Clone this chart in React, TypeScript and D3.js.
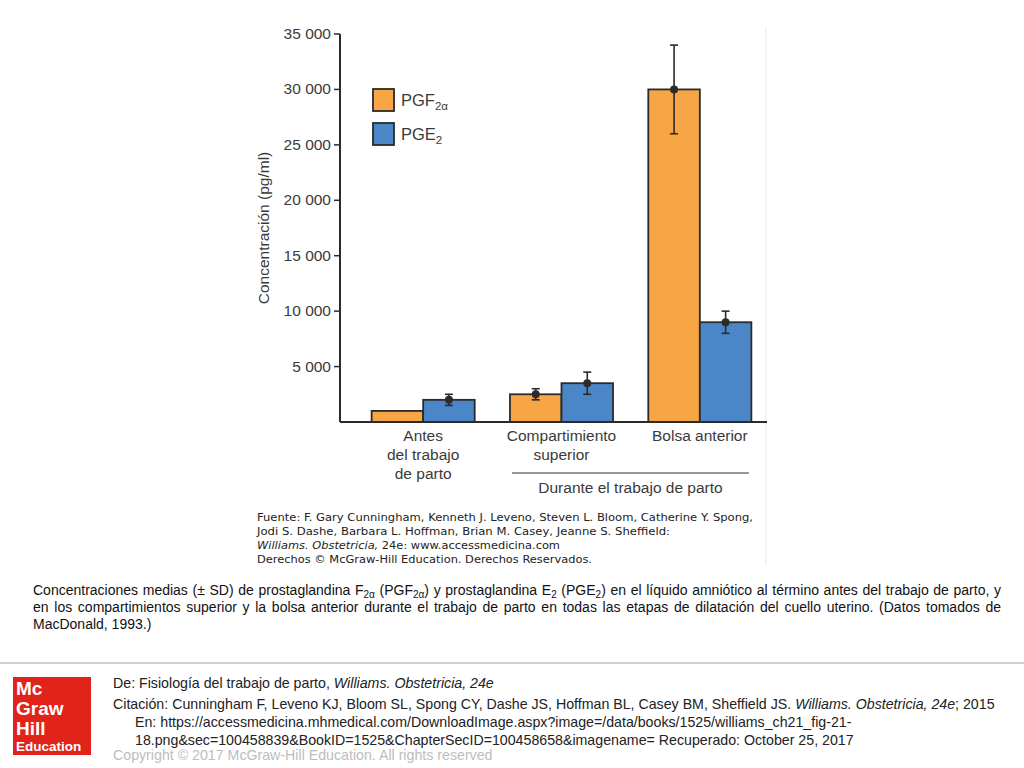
import React, { useEffect, useRef } from "react";
import * as d3 from "d3";

const categories = ["Antes", "Compartimiento", "Bolsa"];
const categoryLines = [["Antes", "del trabajo", "de parto"], ["Compartimiento", "superior"], ["Bolsa anterior"]];
const series = ["PGF", "PGE"];
const pgfValues = [1000, 2500, 30000];
const pgfSD = [0, 500, 4000];
const pgeValues = [2000, 3500, 9000];
const pgeSD = [500, 1000, 1000];
const yTicks = [5000, 10000, 15000, 20000, 25000, 30000, 35000];

const ORANGE = "#F8A546";
const BLUE = "#4B86C8";
const INK = "#2b2b2b";
const TXT = "#3a3a3a";

const fmt = d3.formatLocale({ decimal: ",", thousands: " ", grouping: [3], currency: ["", ""] }).format(",d");

function Justified({ x, y, width, children }: any) {
  const ref = useRef<SVGTextElement>(null);
  useEffect(() => {
    const el = ref.current;
    if (!el) return;
    el.style.wordSpacing = "0px";
    const len = el.getComputedTextLength();
    const txt = el.textContent || "";
    const spaces = (txt.match(/ /g) || []).length;
    if (spaces > 0) el.style.wordSpacing = (width - len) / spaces + "px";
  }, [width]);
  return (
    <text ref={ref} x={x} y={y}>
      {children}
    </text>
  );
}

export default function App() {
  const y = d3.scaleLinear().domain([0, 35000]).range([422, 34]);
  const x0 = d3.scaleBand().domain(categories).range([354, 769]).paddingInner(0.255).paddingOuter(0.1275);
  const x1 = d3.scaleBand().domain(series).range([0, x0.bandwidth()]);
  const data = categories.map((c, i) => [
    { s: "PGF", v: pgfValues[i], sd: pgfSD[i], color: ORANGE },
    { s: "PGE", v: pgeValues[i], sd: pgeSD[i], color: BLUE },
  ]);
  const axisX = 340;
  const sub = (t: string, size = 10) => (
    <tspan fontSize={size} dy={3}>{t}</tspan>
  );

  return (
    <svg width={1024} height={768} style={{ position: "absolute", left: 0, top: 0, background: "#fff" }} fontFamily="'Liberation Sans', Arial, sans-serif">
      {/* figure border */}
      <line x1={766} x2={766} y1={28} y2={565} stroke="#e6e6e6" strokeWidth={1} />

      {/* bars */}
      {data.map((grp, i) =>
        grp.map((d) => {
          const bx = (x0(categories[i]) as number) + (x1(d.s) as number);
          const bw = x1.bandwidth();
          const cx = bx + bw / 2;
          return (
            <g key={i + d.s}>
              <rect x={bx} y={y(d.v)} width={bw} height={y(0) - y(d.v)} fill={d.color} stroke={INK} strokeWidth={1.8} />
              {d.sd > 0 && (
                <g stroke={INK} strokeWidth={1.6}>
                  <line x1={cx} x2={cx} y1={y(d.v + d.sd)} y2={y(d.v - d.sd)} />
                  <line x1={cx - 4} x2={cx + 4} y1={y(d.v + d.sd)} y2={y(d.v + d.sd)} />
                  <line x1={cx - 4} x2={cx + 4} y1={y(d.v - d.sd)} y2={y(d.v - d.sd)} />
                  <circle cx={cx} cy={y(d.v)} r={4} fill={INK} stroke="none" />
                </g>
              )}
            </g>
          );
        })
      )}

      {/* axes */}
      <line x1={axisX} x2={axisX} y1={y(35000)} y2={y(0)} stroke={INK} strokeWidth={2} />
      <line x1={axisX} x2={767} y1={y(0)} y2={y(0)} stroke={INK} strokeWidth={2} />
      {yTicks.map((t) => (
        <g key={t}>
          <line x1={axisX - 6} x2={axisX} y1={y(t)} y2={y(t)} stroke={INK} strokeWidth={1.5} />
          <text x={331} y={y(t) + 5} textAnchor="end" fontSize={15.5} fill={TXT}>{fmt(t)}</text>
        </g>
      ))}
      <text transform="translate(269,228) rotate(-90)" textAnchor="middle" fontSize={15.5} fill={TXT}>Concentración (pg/ml)</text>

      {/* category labels */}
      {categoryLines.map((lines, i) => {
        const cx = (x0(categories[i]) as number) + x0.bandwidth() / 2;
        return lines.map((l, j) => (
          <text key={i + "-" + j} x={cx} y={441 + j * 19} textAnchor="middle" fontSize={15.5} fill={TXT}>{l}</text>
        ));
      })}
      <line x1={512} x2={749} y1={473} y2={473} stroke="#777" strokeWidth={1.5} />
      <text x={630.5} y={493} textAnchor="middle" fontSize={15.5} fill={TXT}>Durante el trabajo de parto</text>

      {/* legend */}
      <rect x={373} y={89} width={21} height={22} fill={ORANGE} stroke={INK} strokeWidth={1.8} />
      <rect x={373} y={123} width={21} height={22} fill={BLUE} stroke={INK} strokeWidth={1.8} />
      <text x={401} y={106} fontSize={16.5} fill={TXT}>PGF<tspan fontSize={11.5} dy={4}>2α</tspan></text>
      <text x={401} y={140} fontSize={16.5} fill={TXT}>PGE<tspan fontSize={11.5} dy={4}>2</tspan></text>

      {/* source box */}
      <g fontFamily="'DejaVu Sans', Verdana, sans-serif" fontSize={11} fill="#222">
        <text x={257} y={521} textLength={496} lengthAdjust="spacingAndGlyphs">Fuente: F. Gary Cunningham, Kenneth J. Leveno, Steven L. Bloom, Catherine Y. Spong,</text>
        <text x={257} y={535} textLength={413} lengthAdjust="spacingAndGlyphs">Jodi S. Dashe, Barbara L. Hoffman, Brian M. Casey, Jeanne S. Sheffield:</text>
        <text x={257} y={549} textLength={303} lengthAdjust="spacingAndGlyphs"><tspan fontStyle="italic">Williams. Obstetricia,</tspan> 24e: www.accessmedicina.com</text>
        <text x={257} y={563} textLength={335} lengthAdjust="spacingAndGlyphs">Derechos © McGraw-Hill Education. Derechos Reservados.</text>
      </g>

      {/* caption */}
      <g fontSize={14} fill="#111">
        <Justified x={33} y={595} width={968}>
          Concentraciones medias (± SD) de prostaglandina F{sub("2α")}<tspan dy={-3}> (PGF</tspan>{sub("2α")}<tspan dy={-3}>) y prostaglandina E</tspan>{sub("2")}<tspan dy={-3}> (PGE</tspan>{sub("2")}<tspan dy={-3}>) en el líquido amniótico al término antes del trabajo de parto, y</tspan>
        </Justified>
        <Justified x={33} y={612} width={968}>
          en los compartimientos superior y la bolsa anterior durante el trabajo de parto en todas las etapas de dilatación del cuello uterino. (Datos tomados de
        </Justified>
        <text x={33} y={629}>MacDonald, 1993.)</text>
      </g>

      {/* footer */}
      <line x1={0} x2={1024} y1={663} y2={663} stroke="#cfcfcf" strokeWidth={2} />
      <rect x={13} y={677} width={78} height={78} fill="#E2231A" />
      <g fill="#fff" fontFamily="'Liberation Sans', Arial, sans-serif" fontWeight="bold">
        <text x={16} y={695} fontSize={19}>Mc</text>
        <text x={16} y={715} fontSize={19}>Graw</text>
        <text x={16} y={735} fontSize={19}>Hill</text>
        <text x={16} y={751} fontSize={13.5}>Education</text>
      </g>
      <g fontSize={14.2} fill="#222">
        <text x={113} y={688}>De: Fisiología del trabajo de parto, <tspan fontStyle="italic">Williams. Obstetricia, 24e</tspan></text>
        <text x={113} y={709}>Citación: Cunningham F, Leveno KJ, Bloom SL, Spong CY, Dashe JS, Hoffman BL, Casey BM, Sheffield JS. <tspan fontStyle="italic">Williams. Obstetricia, 24e</tspan>; 2015</text>
        <text x={135} y={727}>En: https://accessmedicina.mhmedical.com/DownloadImage.aspx?image=/data/books/1525/williams_ch21_fig-21-</text>
        <text x={135} y={745}>18.png&amp;sec=100458839&amp;BookID=1525&amp;ChapterSecID=100458658&amp;imagename= Recuperado: October 25, 2017</text>
        <text x={113} y={760} fill="#bdbdbd">Copyright © 2017 McGraw-Hill Education. All rights reserved</text>
      </g>
    </svg>
  );
}
